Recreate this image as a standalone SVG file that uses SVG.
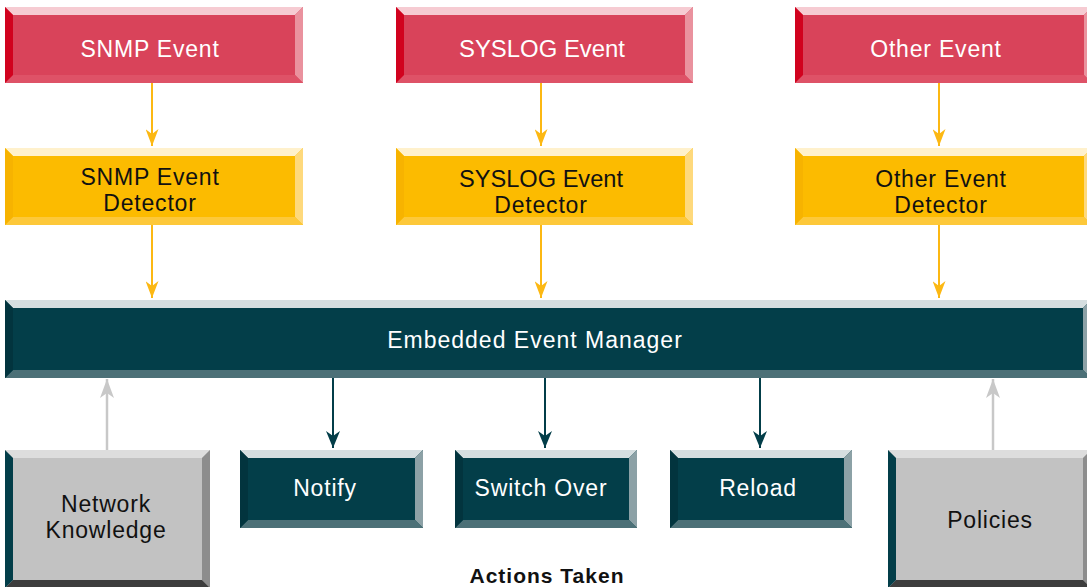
<svg xmlns="http://www.w3.org/2000/svg" width="1087" height="587" viewBox="0 0 1087 587">
<style>
text{font-family:"Liberation Sans",Arial,sans-serif;font-size:23px;letter-spacing:0.8px;text-anchor:middle}
.rf{fill:#d9435a}.rt{fill:#f6cbd2}.rr{fill:#ea929e}.rb{fill:#de5267}.rl{fill:#d1021e}
.yf{fill:#fcbb00}.yt{fill:#fff1cc}.yr{fill:#fed97c}.yb{fill:#fdc83a}.yl{fill:#f7b300}
.tf{fill:#033e49}.tt{fill:#d5dee0}.tr{fill:#8ca1a6}.tb{fill:#4c7077}.tl{fill:#02343e}
.gf{fill:#c2c2c2}.gt{fill:#dddddd}.gr{fill:#8d8d8d}.gb{fill:#3d3d3d}.gl{fill:#033e49}
.wt{fill:#ffffff}.bt{fill:#111111}
.ay{stroke:#fcb813;stroke-width:2;fill:none}
.at{stroke:#033e49;stroke-width:2;fill:none}
.ag{stroke:#c8c8c8;stroke-width:2.5;fill:none}
</style>
<defs>
<marker id="my" viewBox="0 0 17 13" refX="17" refY="6.5" markerWidth="17" markerHeight="13" markerUnits="userSpaceOnUse" orient="auto"><path d="M0,0 L17,6.5 L0,13 L5,6.5 z" fill="#fcb813"/></marker>
<marker id="mt" viewBox="0 0 17 14" refX="17" refY="7" markerWidth="17" markerHeight="14" markerUnits="userSpaceOnUse" orient="auto"><path d="M0,0 L17,7 L0,14 L5,7 z" fill="#033e49"/></marker>
<marker id="mg" viewBox="0 0 19 14" refX="19" refY="7" markerWidth="19" markerHeight="14" markerUnits="userSpaceOnUse" orient="auto"><path d="M0,0 L19,7 L0,14 L5,7 z" fill="#c8c8c8"/></marker>
</defs>
<rect width="1087" height="587" fill="#ffffff"/>

<g id="connectors">
<line class="ay" x1="152" y1="83" x2="152" y2="146" marker-end="url(#my)"/>
<line class="ay" x1="541" y1="83" x2="541" y2="146" marker-end="url(#my)"/>
<line class="ay" x1="939" y1="83" x2="939" y2="146" marker-end="url(#my)"/>
<line class="ay" x1="152" y1="225" x2="152" y2="298" marker-end="url(#my)"/>
<line class="ay" x1="541" y1="225" x2="541" y2="298" marker-end="url(#my)"/>
<line class="ay" x1="939" y1="225" x2="939" y2="298" marker-end="url(#my)"/>
<line class="at" x1="333" y1="378" x2="333" y2="448" marker-end="url(#mt)"/>
<line class="at" x1="545" y1="378" x2="545" y2="448" marker-end="url(#mt)"/>
<line class="at" x1="760" y1="378" x2="760" y2="448" marker-end="url(#mt)"/>
<line class="ag" x1="107" y1="450" x2="107" y2="379" marker-end="url(#mg)"/>
<line class="ag" x1="993" y1="450" x2="993" y2="379" marker-end="url(#mg)"/>
</g>

<g id="snmp-event">
<rect class="rf" x="5" y="7" width="298" height="76"/>
<polygon class="rt" points="5,7 303,7 295,15 13,15"/>
<polygon class="rr" points="303,7 303,83 295,75 295,15"/>
<polygon class="rb" points="5,83 303,83 295,75 13,75"/>
<polygon class="rl" points="5,7 13,15 13,75 5,83"/>
<text class="wt" x="150" y="57">SNMP Event</text>
</g>
<g id="syslog-event">
<rect class="rf" x="396" y="7" width="297" height="76"/>
<polygon class="rt" points="396,7 693,7 685,15 404,15"/>
<polygon class="rr" points="693,7 693,83 685,75 685,15"/>
<polygon class="rb" points="396,83 693,83 685,75 404,75"/>
<polygon class="rl" points="396,7 404,15 404,75 396,83"/>
<text class="wt" x="542" y="57" style="letter-spacing:0" textLength="166" lengthAdjust="spacingAndGlyphs">SYSLOG Event</text>
</g>
<g id="other-event">
<rect class="rf" x="795" y="7" width="297" height="76"/>
<polygon class="rt" points="795,7 1092,7 1084,15 803,15"/>
<polygon class="rr" points="1092,7 1092,83 1084,75 1084,15"/>
<polygon class="rb" points="795,83 1092,83 1084,75 803,75"/>
<polygon class="rl" points="795,7 803,15 803,75 795,83"/>
<text class="wt" x="936" y="57">Other Event</text>
</g>

<g id="snmp-detector">
<rect class="yf" x="5" y="148" width="298" height="77"/>
<polygon class="yt" points="5,148 303,148 295,156 13,156"/>
<polygon class="yr" points="303,148 303,225 295,217 295,156"/>
<polygon class="yb" points="5,225 303,225 295,217 13,217"/>
<polygon class="yl" points="5,148 13,156 13,217 5,225"/>
<text class="bt" x="150" y="185">SNMP Event</text>
<text class="bt" x="150" y="211">Detector</text>
</g>
<g id="syslog-detector">
<rect class="yf" x="396" y="148" width="297" height="77"/>
<polygon class="yt" points="396,148 693,148 685,156 404,156"/>
<polygon class="yr" points="693,148 693,225 685,217 685,156"/>
<polygon class="yb" points="396,225 693,225 685,217 404,217"/>
<polygon class="yl" points="396,148 404,156 404,217 396,225"/>
<text class="bt" x="541" y="187" style="letter-spacing:0" textLength="164" lengthAdjust="spacingAndGlyphs">SYSLOG Event</text>
<text class="bt" x="541" y="213">Detector</text>
</g>
<g id="other-detector">
<rect class="yf" x="795" y="148" width="297" height="77"/>
<polygon class="yt" points="795,148 1092,148 1084,156 803,156"/>
<polygon class="yr" points="1092,148 1092,225 1084,217 1084,156"/>
<polygon class="yb" points="795,225 1092,225 1084,217 803,217"/>
<polygon class="yl" points="795,148 803,156 803,217 795,225"/>
<text class="bt" x="941" y="187">Other Event</text>
<text class="bt" x="941" y="213">Detector</text>
</g>

<g id="eem">
<rect class="tf" x="5" y="300" width="1086" height="78"/>
<polygon class="tt" points="5,300 1091,300 1083,308 13,308"/>
<polygon class="tr" points="1091,300 1091,378 1083,370 1083,308"/>
<polygon class="tb" points="5,378 1091,378 1083,370 13,370"/>
<polygon class="tl" points="5,300 13,308 13,370 5,378"/>
<text class="wt" x="535" y="348" style="letter-spacing:1px">Embedded Event Manager</text>
</g>

<g id="network-knowledge">
<rect class="gf" x="5" y="450" width="205" height="138"/>
<polygon class="gt" points="5,450 210,450 202,458 13,458"/>
<polygon class="gr" points="210,450 210,588 202,580 202,458"/>
<polygon class="gb" points="5,588 210,588 202,580 13,580"/>
<polygon class="gl" points="5,450 13,458 13,580 5,588"/>
<text class="bt" x="106" y="512">Network</text>
<text class="bt" x="106" y="538">Knowledge</text>
</g>

<g id="notify">
<rect class="tf" x="240" y="450" width="183" height="78"/>
<polygon class="tt" points="240,450 423,450 415,458 248,458"/>
<polygon class="tr" points="423,450 423,528 415,520 415,458"/>
<polygon class="tb" points="240,528 423,528 415,520 248,520"/>
<polygon class="tl" points="240,450 248,458 248,520 240,528"/>
<text class="wt" x="325" y="496">Notify</text>
</g>
<g id="switch-over">
<rect class="tf" x="455" y="450" width="182" height="78"/>
<polygon class="tt" points="455,450 637,450 629,458 463,458"/>
<polygon class="tr" points="637,450 637,528 629,520 629,458"/>
<polygon class="tb" points="455,528 637,528 629,520 463,520"/>
<polygon class="tl" points="455,450 463,458 463,520 455,528"/>
<text class="wt" x="541" y="496">Switch Over</text>
</g>
<g id="reload">
<rect class="tf" x="670" y="450" width="182" height="78"/>
<polygon class="tt" points="670,450 852,450 844,458 678,458"/>
<polygon class="tr" points="852,450 852,528 844,520 844,458"/>
<polygon class="tb" points="670,528 852,528 844,520 678,520"/>
<polygon class="tl" points="670,450 678,458 678,520 670,528"/>
<text class="wt" x="758" y="496">Reload</text>
</g>

<g id="policies">
<rect class="gf" x="888" y="450" width="203" height="138"/>
<polygon class="gt" points="888,450 1091,450 1083,458 896,458"/>
<polygon class="gr" points="1091,450 1091,588 1083,580 1083,458"/>
<polygon class="gb" points="888,588 1091,588 1083,580 896,580"/>
<polygon class="gl" points="888,450 896,458 896,580 888,588"/>
<text class="bt" x="990" y="528">Policies</text>
</g>

<g id="actions-taken">
<text class="bt" x="547" y="583" style="font-weight:bold;font-size:21px;letter-spacing:1px">Actions Taken</text>
</g>
</svg>
